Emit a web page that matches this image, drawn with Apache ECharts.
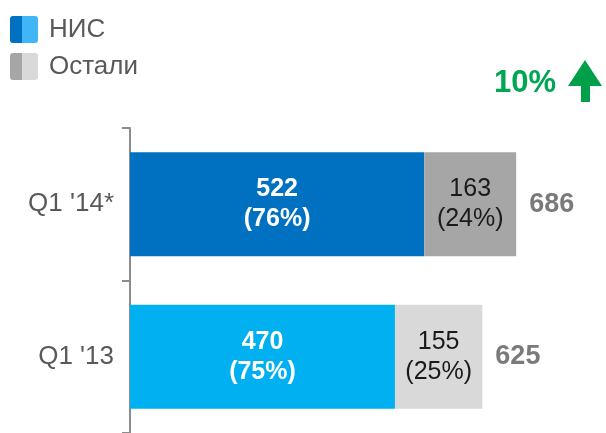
<!DOCTYPE html>
<html>
<head>
<meta charset="utf-8">
<script src="https://cdn.jsdelivr.net/npm/echarts@6/dist/echarts.min.js"></script>
<style>
    html, body {margin: 0; padding: 0; background: #fff;}
    #chart {width: 606px; height: 433px;}
</style>
</head>
<body>
<div id="chart"></div>
<script>
// bottom to top
const categories = ["Q1 '13", "Q1 '14*"];
const nisValues = [470, 522];
const nisPercent = [75, 76];
const otherValues = [155, 163];
const otherPercent = [25, 24];
const totals = [625, 686];
const growthLabel = '10%';

const FONT = '"Liberation Sans", Arial, sans-serif';
const nisColors = ['#00b0f0', '#0070c0'];
const otherColors = ['#d9d9d9', '#a6a6a6'];

const splitFill = (a, b) => ({
    type: 'linear', x: 0, y: 0, x2: 1, y2: 0,
    colorStops: [
        {offset: 0, color: a}, {offset: 0.42, color: a},
        {offset: 0.42, color: b}, {offset: 1, color: b}
    ]
});

const chart = echarts.init(document.getElementById('chart'));

chart.setOption({
    animation: false,
    textStyle: {fontFamily: FONT},
    legend: {
        orient: 'vertical',
        left: 5,
        top: 11,
        itemWidth: 28,
        itemHeight: 27,
        itemGap: 10,
        icon: 'path://M3,0 L25,0 Q28,0 28,3 L28,24 Q28,27 25,27 L3,27 Q0,27 0,24 L0,3 Q0,0 3,0 Z',
        textStyle: {fontSize: 26, color: '#595959', fontFamily: FONT, padding: [5, 0, 0, 6]},
        data: [
            {name: 'НИС', itemStyle: {color: splitFill('#0070c0', '#41b6f6')}},
            {name: 'Остали', itemStyle: {color: splitFill('#a6a6a6', '#d9d9d9')}}
        ]
    },
    grid: {left: 130, top: 128, width: 451, height: 308},
    xAxis: {
        type: 'value',
        min: 0,
        max: 800,
        show: false
    },
    yAxis: {
        type: 'category',
        data: categories,
        axisLine: {lineStyle: {color: '#8c8c8c', width: 2}},
        axisTick: {show: true, length: 8, lineStyle: {color: '#8c8c8c', width: 2}},
        axisLabel: {margin: 16, fontSize: 26, color: '#595959', fontFamily: FONT}
    },
    graphic: [
        {
            type: 'text', left: 494, top: 68,
            style: {text: growthLabel, fill: '#00a651', font: 'bold 31px ' + FONT}
        },
        {
            type: 'polygon',
            shape: {points: [[585, 60], [602, 86], [590, 86], [590, 102], [581, 102], [581, 86], [568, 86]]},
            style: {fill: '#00a04a'}
        }
    ],
    series: [
        {
            name: 'НИС',
            type: 'bar',
            stack: 'q',
            barWidth: 104,
            data: nisValues.map((v, i) => ({value: v, itemStyle: {color: nisColors[i]}})),
            label: {
                show: true,
                position: 'inside',
                color: '#fff',
                fontWeight: 'bold',
                fontSize: 25,
                lineHeight: 30,
                fontFamily: FONT,
                formatter: p => nisValues[p.dataIndex] + '\n(' + nisPercent[p.dataIndex] + '%)'
            }
        },
        {
            name: 'Остали',
            type: 'bar',
            stack: 'q',
            barWidth: 104,
            data: otherValues.map((v, i) => ({value: v, itemStyle: {color: otherColors[i]}})),
            label: {
                show: true,
                position: 'inside',
                color: '#1a1a1a',
                fontSize: 25,
                lineHeight: 30,
                fontFamily: FONT,
                formatter: p => otherValues[p.dataIndex] + '\n(' + otherPercent[p.dataIndex] + '%)'
            }
        },
        {
            name: 'total',
            type: 'scatter',
            symbolSize: 0,
            data: totals.map((t, i) => [nisValues[i] + otherValues[i], i]),
            label: {
                show: true,
                position: 'right',
                distance: 13,
                color: '#595959',
                fontWeight: 'bold',
                fontSize: 27,
                fontFamily: FONT,
                formatter: p => totals[p.dataIndex]
            },
            silent: true
        }
    ]
});
</script>
</body>
</html>
